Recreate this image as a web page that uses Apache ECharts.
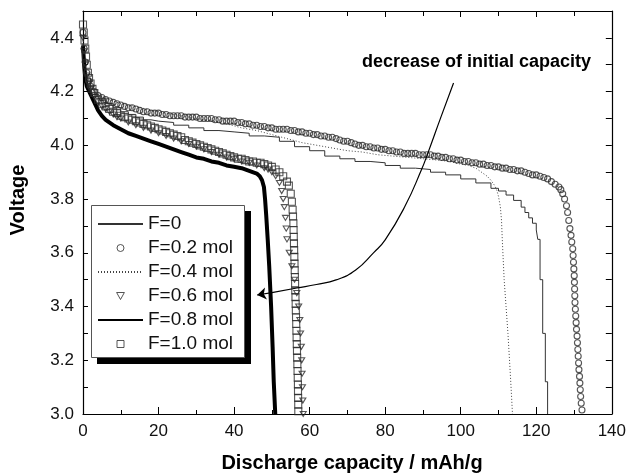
<!DOCTYPE html>
<html><head><meta charset="utf-8">
<script src="https://cdn.jsdelivr.net/npm/echarts@6/dist/echarts.min.js"></script>
<style>html,body{margin:0;padding:0;background:#fff}#c{width:629px;height:475px}</style>
</head><body><div id="c"></div><script>
const FONT = '"Liberation Sans", Arial, Helvetica, sans-serif';
const seriesNames = ['F=0','F=0.2 mol','F=0.4 mol','F=0.6 mol','F=0.8 mol','F=1.0 mol'];
const xRange = [0, 140];
const yRange = [3.0, 4.5];
const xTitle = 'Discharge capacity / mAh/g';
const yTitle = 'Voltage';
const annotationText = 'decrease of initial capacity';

// [capacity mAh/g, voltage V]
const f0 = [[0,4.38],[0.3,4.32],[0.6,4.28],[1,4.25],[2,4.21],[3,4.19],[4,4.175],[6,4.155],[8,4.14],[10,4.125],[12,4.115],[14,4.105],[16,4.095],[18,4.09],[20,4.085],[24,4.075],[28,4.065],[32,4.055],[36,4.05],[40,4.045],[44,4.035],[48,4.03],[52,4.015],[56,3.995],[60,3.98],[64,3.96],[68,3.95],[72,3.94],[76,3.935],[80,3.925],[84,3.915],[88,3.91],[92,3.90],[96,3.89],[100,3.875],[104,3.86],[108,3.84],[110,3.83],[112,3.815],[114,3.795],[116,3.77],[117,3.75],[118,3.73],[119,3.71],[120,3.685],[120.4,3.65],[121,3.50],[121.7,3.30],[122.4,3.12],[123,3.0]];

const f02 = [[0,4.42],[0.3,4.36],[0.6,4.31],[1,4.27],[1.5,4.24],[2,4.22],[3,4.20],[4,4.185],[5,4.178],[6,4.17],[7,4.165],[8,4.16],[9,4.155],[10,4.15],[11,4.145],[12,4.14],[13,4.14],[14,4.135],[15,4.13],[16,4.125],[17,4.125],[18,4.12],[19,4.12],[20,4.12],[21,4.115],[22,4.115],[23,4.11],[24,4.11],[25,4.11],[26,4.11],[27,4.105],[28,4.105],[29,4.105],[30,4.105],[31,4.10],[32,4.10],[33,4.10],[34,4.10],[35,4.095],[36,4.095],[37,4.09],[38,4.09],[39,4.09],[40,4.09],[41,4.085],[42,4.085],[43,4.08],[44,4.08],[45,4.075],[46,4.075],[47,4.07],[48,4.07],[49,4.065],[50,4.065],[51,4.06],[52,4.06],[53,4.06],[54,4.06],[55,4.055],[56,4.055],[57,4.05],[58,4.05],[59,4.045],[60,4.045],[61,4.04],[62,4.04],[63,4.035],[64,4.035],[65,4.03],[66,4.03],[67,4.025],[68,4.02],[69,4.015],[70,4.015],[71,4.01],[72,4.005],[73,4.0],[74,4.0],[75,3.995],[76,3.995],[77,3.99],[78,3.99],[79,3.985],[80,3.985],[81,3.98],[82,3.98],[83,3.975],[84,3.975],[85,3.97],[86,3.97],[87,3.97],[88,3.97],[89,3.965],[90,3.965],[91,3.965],[92,3.965],[93,3.96],[94,3.96],[95,3.955],[96,3.955],[97,3.95],[98,3.95],[99,3.945],[100,3.945],[101,3.94],[102,3.94],[103,3.935],[104,3.935],[105,3.93],[106,3.93],[107,3.925],[108,3.925],[109,3.92],[110,3.92],[111,3.915],[112,3.915],[113,3.91],[114,3.91],[115,3.905],[116,3.905],[117,3.90],[118,3.895],[119,3.89],[120,3.89],[121,3.885],[122,3.88],[123,3.875],[124,3.865],[125,3.855],[126,3.845],[126.5,3.835],[127,3.82],[127.5,3.80],[128,3.775],[128.3,3.75],[128.6,3.72],[128.9,3.69],[129.2,3.665],[129.4,3.64],[129.65,3.615],[129.75,3.59],[129.85,3.565],[129.95,3.54],[130.05,3.515],[130.1,3.49],[130.15,3.465],[130.2,3.44],[130.25,3.415],[130.35,3.39],[130.45,3.365],[130.55,3.34],[130.65,3.315],[130.8,3.29],[130.9,3.265],[131.0,3.24],[131.1,3.215],[131.2,3.19],[131.3,3.165],[131.45,3.14],[131.55,3.115],[131.65,3.09],[131.75,3.065],[131.9,3.04],[132.1,3.015]];

const f04 = [[0,4.40],[0.3,4.34],[0.6,4.30],[1,4.26],[2,4.22],[3,4.20],[4,4.19],[6,4.175],[8,4.165],[10,4.155],[14,4.145],[18,4.13],[22,4.12],[26,4.11],[30,4.10],[34,4.09],[38,4.08],[42,4.065],[46,4.055],[50,4.04],[54,4.025],[58,4.01],[62,4.0],[66,3.99],[70,3.98],[74,3.975],[78,3.965],[82,3.96],[86,3.955],[90,3.95],[94,3.945],[97,3.94],[100,3.93],[102,3.925],[104,3.915],[106,3.895],[107,3.885],[108,3.87],[109,3.85],[109.5,3.835],[110,3.81],[110.5,3.77],[110.8,3.72],[111,3.65],[111.5,3.50],[112,3.40],[112.5,3.30],[113,3.18],[113.4,3.08],[113.7,3.0]];

const f06 = [[0,4.40],[0.3,4.35],[0.6,4.30],[1,4.26],[1.5,4.23],[2,4.21],[3,4.18],[4,4.16],[5,4.145],[6,4.135],[7,4.125],[8,4.115],[9,4.105],[10,4.10],[12,4.085],[14,4.075],[16,4.065],[18,4.055],[20,4.045],[22,4.035],[24,4.025],[26,4.015],[28,4.005],[30,3.995],[32,3.985],[34,3.975],[36,3.965],[38,3.955],[40,3.95],[42,3.94],[44,3.935],[46,3.925],[48,3.915],[49,3.91],[50,3.90],[51,3.885],[52,3.86],[52.6,3.83],[53,3.80],[53.3,3.77],[53.6,3.73],[53.8,3.69],[54.0,3.65],[54.6,3.60],[55.3,3.55],[56.0,3.50],[56.6,3.45],[57.1,3.40],[57.4,3.35],[57.6,3.30],[57.8,3.25],[57.9,3.20],[58.0,3.15],[58.1,3.10],[58.2,3.05],[58.3,3.0]];

const f08 = [[0,4.37],[0.3,4.30],[0.6,4.25],[1,4.22],[2,4.19],[3,4.16],[4,4.13],[5,4.11],[6,4.095],[8,4.075],[10,4.06],[12,4.045],[14,4.035],[16,4.025],[18,4.015],[20,4.005],[22,3.995],[24,3.985],[26,3.975],[28,3.965],[30,3.955],[32,3.95],[34,3.94],[36,3.935],[38,3.925],[40,3.92],[42,3.915],[44,3.905],[46,3.895],[46.8,3.885],[47.4,3.87],[47.9,3.845],[48.2,3.80],[48.5,3.74],[48.9,3.65],[49.3,3.55],[49.8,3.40],[50.2,3.25],[50.5,3.12],[50.9,3.0]];

const f10 = [[0,4.45],[0.2,4.42],[0.4,4.39],[0.6,4.36],[0.8,4.33],[1,4.30],[1.3,4.27],[1.6,4.25],[2,4.23],[2.5,4.21],[3,4.195],[4,4.17],[5,4.155],[6,4.145],[7,4.135],[8,4.125],[9,4.12],[10,4.11],[11,4.105],[12,4.10],[13,4.095],[14,4.09],[15,4.085],[16,4.08],[17,4.075],[18,4.07],[19,4.065],[20,4.06],[21,4.055],[22,4.05],[23,4.045],[24,4.04],[25,4.035],[26,4.03],[27,4.02],[28,4.015],[29,4.01],[30,4.005],[31,4.0],[32,3.995],[33,3.99],[34,3.985],[35,3.98],[36,3.975],[37,3.97],[38,3.965],[39,3.96],[40,3.955],[41,3.95],[42,3.95],[43,3.945],[44,3.94],[45,3.94],[46,3.935],[47,3.935],[48,3.93],[49,3.925],[50,3.92],[51,3.91],[52,3.90],[53,3.885],[54,3.865],[54.5,3.85],[55,3.82],[55.3,3.79],[55.5,3.76],[55.6,3.735],[55.7,3.71],[55.75,3.685],[55.8,3.66],[55.85,3.635],[55.9,3.61],[55.95,3.585],[56.0,3.56],[56.05,3.535],[56.1,3.51],[56.15,3.485],[56.2,3.46],[56.25,3.435],[56.3,3.41],[56.35,3.385],[56.4,3.36],[56.45,3.335],[56.5,3.31],[56.55,3.285],[56.6,3.26],[56.65,3.235],[56.7,3.21],[56.75,3.185],[56.8,3.16],[56.85,3.135],[56.9,3.11],[56.92,3.085],[56.95,3.06],[56.98,3.035],[57.0,3.01]];

// annotation arrow path in data coordinates
const arrowPath = [[98.1,4.232],[94.8,4.107],[91.3,3.971],[89.6,3.909],[85.2,3.772],[80.0,3.648],[76.9,3.600],[72.2,3.536],[67.0,3.499],[61.8,3.482],[56.6,3.469],[50.0,3.452]];
const arrowHead = [[50.0,3.452],[46.1,3.443]];

const chart = echarts.init(document.getElementById('c'), null, {renderer:'canvas'});
const axisCommon = {
  axisLine:{show:true, onZero:false, lineStyle:{color:'#000', width:1.2}},
  splitLine:{show:false}
};
const hollow = {color:'rgba(0,0,0,0)', borderColor:'#2a2a2a', borderWidth:1.1};
chart.setOption({
  animation:false,
  backgroundColor:'#fff',
  textStyle:{fontFamily:FONT},
  grid:{left:83, top:11, right:9, bottom:61},
  xAxis:[
    Object.assign({type:'value', min:xRange[0], max:xRange[1], interval:20, position:'bottom',
      axisTick:{inside:true, length:7, lineStyle:{color:'#000'}},
      minorTick:{show:true, splitNumber:2, length:4, lineStyle:{color:'#000'}},
      axisLabel:{fontSize:17, color:'#111', margin:9, fontFamily:FONT}}, axisCommon),
    Object.assign({type:'value', min:xRange[0], max:xRange[1], interval:20, position:'top',
      axisTick:{inside:true, length:6, lineStyle:{color:'#000'}},
      minorTick:{show:true, splitNumber:2, length:5, lineStyle:{color:'#000'}},
      axisLabel:{show:false}}, axisCommon)
  ],
  yAxis:[
    Object.assign({type:'value', min:yRange[0], max:yRange[1], interval:0.1, position:'left',
      axisTick:{inside:true, length:5, lineStyle:{color:'#000'}},
      axisLabel:{fontSize:17, color:'#111', margin:9, fontFamily:FONT,
        formatter:v=>{const k=Math.round(v*10); return (k%2===0 && k<45)?(k/10).toFixed(1):'';}}}, axisCommon),
    Object.assign({type:'value', min:yRange[0], max:yRange[1], interval:0.1, position:'right',
      axisTick:{inside:true, length:6, lineStyle:{color:'#000'}},
      axisLabel:{show:false}}, axisCommon)
  ],
  legend:{
    orient:'vertical', left:91, top:205, z:20,
    data:[
      {name:seriesNames[0], itemStyle:{opacity:0}},
      {name:seriesNames[1]},
      {name:seriesNames[2], itemStyle:{opacity:0}},
      {name:seriesNames[3]},
      {name:seriesNames[4], itemStyle:{opacity:0}},
      {name:seriesNames[5]}
    ],
    itemWidth:45, itemHeight:7, itemGap:4,
    padding:[9,13,5,6],
    backgroundColor:'transparent', borderWidth:0,
    selectedMode:false,
    itemStyle:{borderWidth:1},
    textStyle:{fontSize:19, lineHeight:20, color:'#111', fontFamily:FONT}
  },
  series:[
    {name:seriesNames[0], type:'line', data:f0, step:'end', symbol:'none', lineStyle:{color:'#333', width:1}, itemStyle:{color:'#333'}, z:2},
    {name:seriesNames[2], type:'line', data:f04, symbol:'none', lineStyle:{color:'#444', width:1, type:[1,2]}, itemStyle:{color:'#444'}, z:2},
    {name:seriesNames[4], type:'line', data:f08, symbol:'none', lineStyle:{color:'#000', width:4}, itemStyle:{color:'#000'}, z:3},
    {name:seriesNames[1], type:'scatter', data:f02, symbol:'circle', symbolSize:6, itemStyle:hollow, z:4},
    {name:seriesNames[3], type:'scatter', data:f06, symbol:'path://M0,0L10,0L5,9Z', symbolSize:[6,5], itemStyle:hollow, z:4},
    {name:seriesNames[5], type:'scatter', data:f10, symbol:'path://M0,0L10,0L10,10L0,10Z', symbolSize:7, itemStyle:hollow, z:4},
    {name:'arrow', type:'line', data:arrowPath, smooth:true, symbol:'none', silent:true, z:6,
      lineStyle:{color:'#000', width:1.2}},
    {type:'lines', coordinateSystem:'cartesian2d', silent:true, z:6,
      data:[{coords:arrowHead}], symbol:['none','arrow'], symbolSize:[0,9],
      lineStyle:{color:'#000', width:1.2, opacity:1, curveness:0}}
  ],
  graphic:[
    {type:'rect', z:7, shape:{x:97, y:211, width:154, height:153}, style:{fill:'#000'}},
    {type:'rect', z:8, shape:{x:91.5, y:205.5, width:153, height:152}, style:{fill:'#fff', stroke:'#555', lineWidth:1}},
    {type:'text', x:352, y:463, style:{text:xTitle, font:'bold 20px '+FONT, fill:'#000', align:'center', verticalAlign:'middle'}},
    {type:'text', x:18.5, y:200, rotation:Math.PI/2, style:{text:yTitle, font:'bold 20px '+FONT, fill:'#000', align:'center', verticalAlign:'middle'}},
    {type:'text', x:362, y:62, style:{text:annotationText, font:'bold 18px '+FONT, fill:'#000', align:'left', verticalAlign:'middle'}}
  ]
});
</script></body></html>
